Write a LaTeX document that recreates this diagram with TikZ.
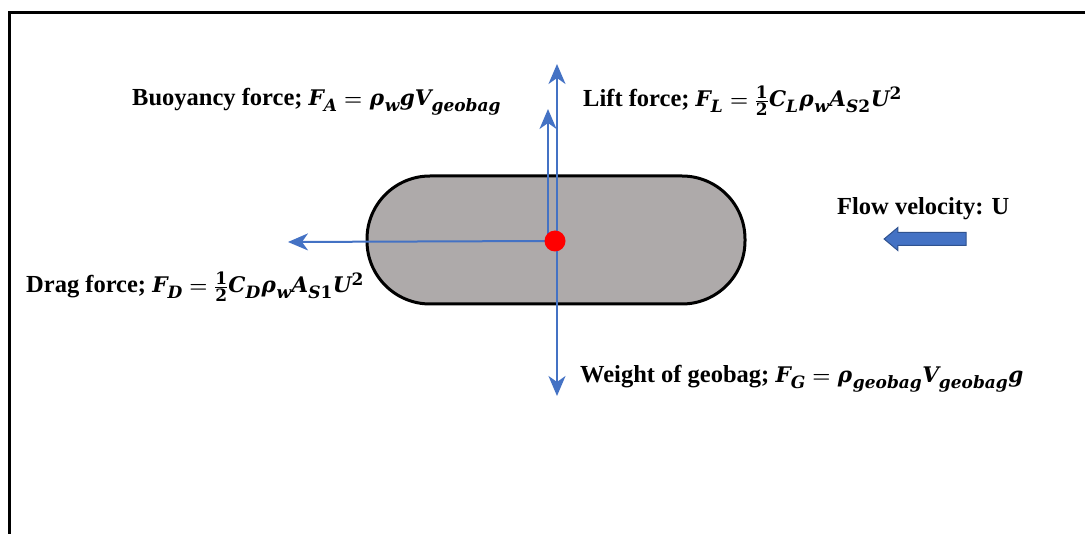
\documentclass[tikz,border=0pt]{standalone}
\usepackage{amsmath}
\usepackage{mathspec}
\setmainfont{Liberation Serif}
\newfontfamily\lblfont{Liberation Serif Bold}
\setmathsfont(Digits,Latin,Greek)[Scale=1.0,UprightFont={DejaVu Serif Bold},ItalicFont={DejaVu Serif Bold Italic},BoldFont={DejaVu Serif Bold},BoldItalicFont={DejaVu Serif Bold Italic}]{DejaVu Serif}
\usetikzlibrary{arrows.meta,shapes.arrows}
\definecolor{forceblue}{HTML}{4472C4}
\definecolor{bagfill}{HTML}{AEAAAA}
\definecolor{flowblue}{HTML}{4472C4}
\definecolor{flowedge}{HTML}{2F528F}
\tikzset{
  force/.style={draw=forceblue, line width=2pt, -{Stealth[length=20pt,width=17pt,inset=6pt]}},
  lbl/.style={inner sep=0pt, anchor=base west, font=\fontsize{24.5}{29}\lblfont},
}
\DeclareMathSizes{24.5}{21.5}{17}{13}
\newcommand{\fA}{$F_A=\rho_w gV_{geobag}$}
\newcommand{\fL}{$F_L=\tfrac{1}{2}C_L\rho_w A_{S2}U^2$}
\newcommand{\fD}{$F_D=\tfrac{1}{2}C_D\rho_w A_{S1}U^2$}
\newcommand{\fG}{$F_G=\rho_{geobag}V_{geobag}g$}
\begin{document}
\boldmath
\begin{tikzpicture}[x=1pt,y=-1pt]
\useasboundingbox (0,0) rectangle (1085,534);
% frame
\draw[line width=3pt] (9.5,534) -- (9.5,12.5) -- (1085,12.5);
% geobag
\node (bag) [draw=black, line width=3pt, fill=bagfill, rounded corners=63pt,
  minimum width=378pt, minimum height=128pt, inner sep=0pt] at (556,240) {};
% centre points
\coordinate (c) at (557,241);
\coordinate (cb) at (548,241);
\coordinate (liftTip) at (557,64);
\coordinate (weightTip) at (557,396);
\coordinate (buoyTip) at (548,109);
\coordinate (dragTip) at (288,242);
% forces
\draw[force] (cb) -- (dragTip);
\draw[force] (cb) -- (buoyTip);
\draw[force] (c) -- (liftTip);
\draw[force] (c) -- (weightTip);
% red dot
\node (dot) [circle, fill=red, minimum size=21pt, inner sep=0pt] at (555,241) {};
% labels
\node (buoy) [lbl] at (132,106) {Buoyancy force\string; \fA};
\node (lift) [lbl] at (583,107) {Lift force\string; \fL};
\node (drag) [lbl] at (26,293) {Drag force\string; \fD};
\node (weight) [lbl] at (580,383) {Weight of geobag\string; \fG};
\node (flow) [lbl] at (837,215) {Flow velocity: U};
% flow arrow
\node (flowarrow) [single arrow, draw=flowedge, fill=flowblue, line width=1pt,
  shape border rotate=180, minimum height=82pt, minimum width=22pt,
  inner xsep=0pt, inner ysep=6pt, single arrow head extend=5pt,
  single arrow tip angle=80, anchor=center] at (929,239) {};
\end{tikzpicture}
\end{document}
